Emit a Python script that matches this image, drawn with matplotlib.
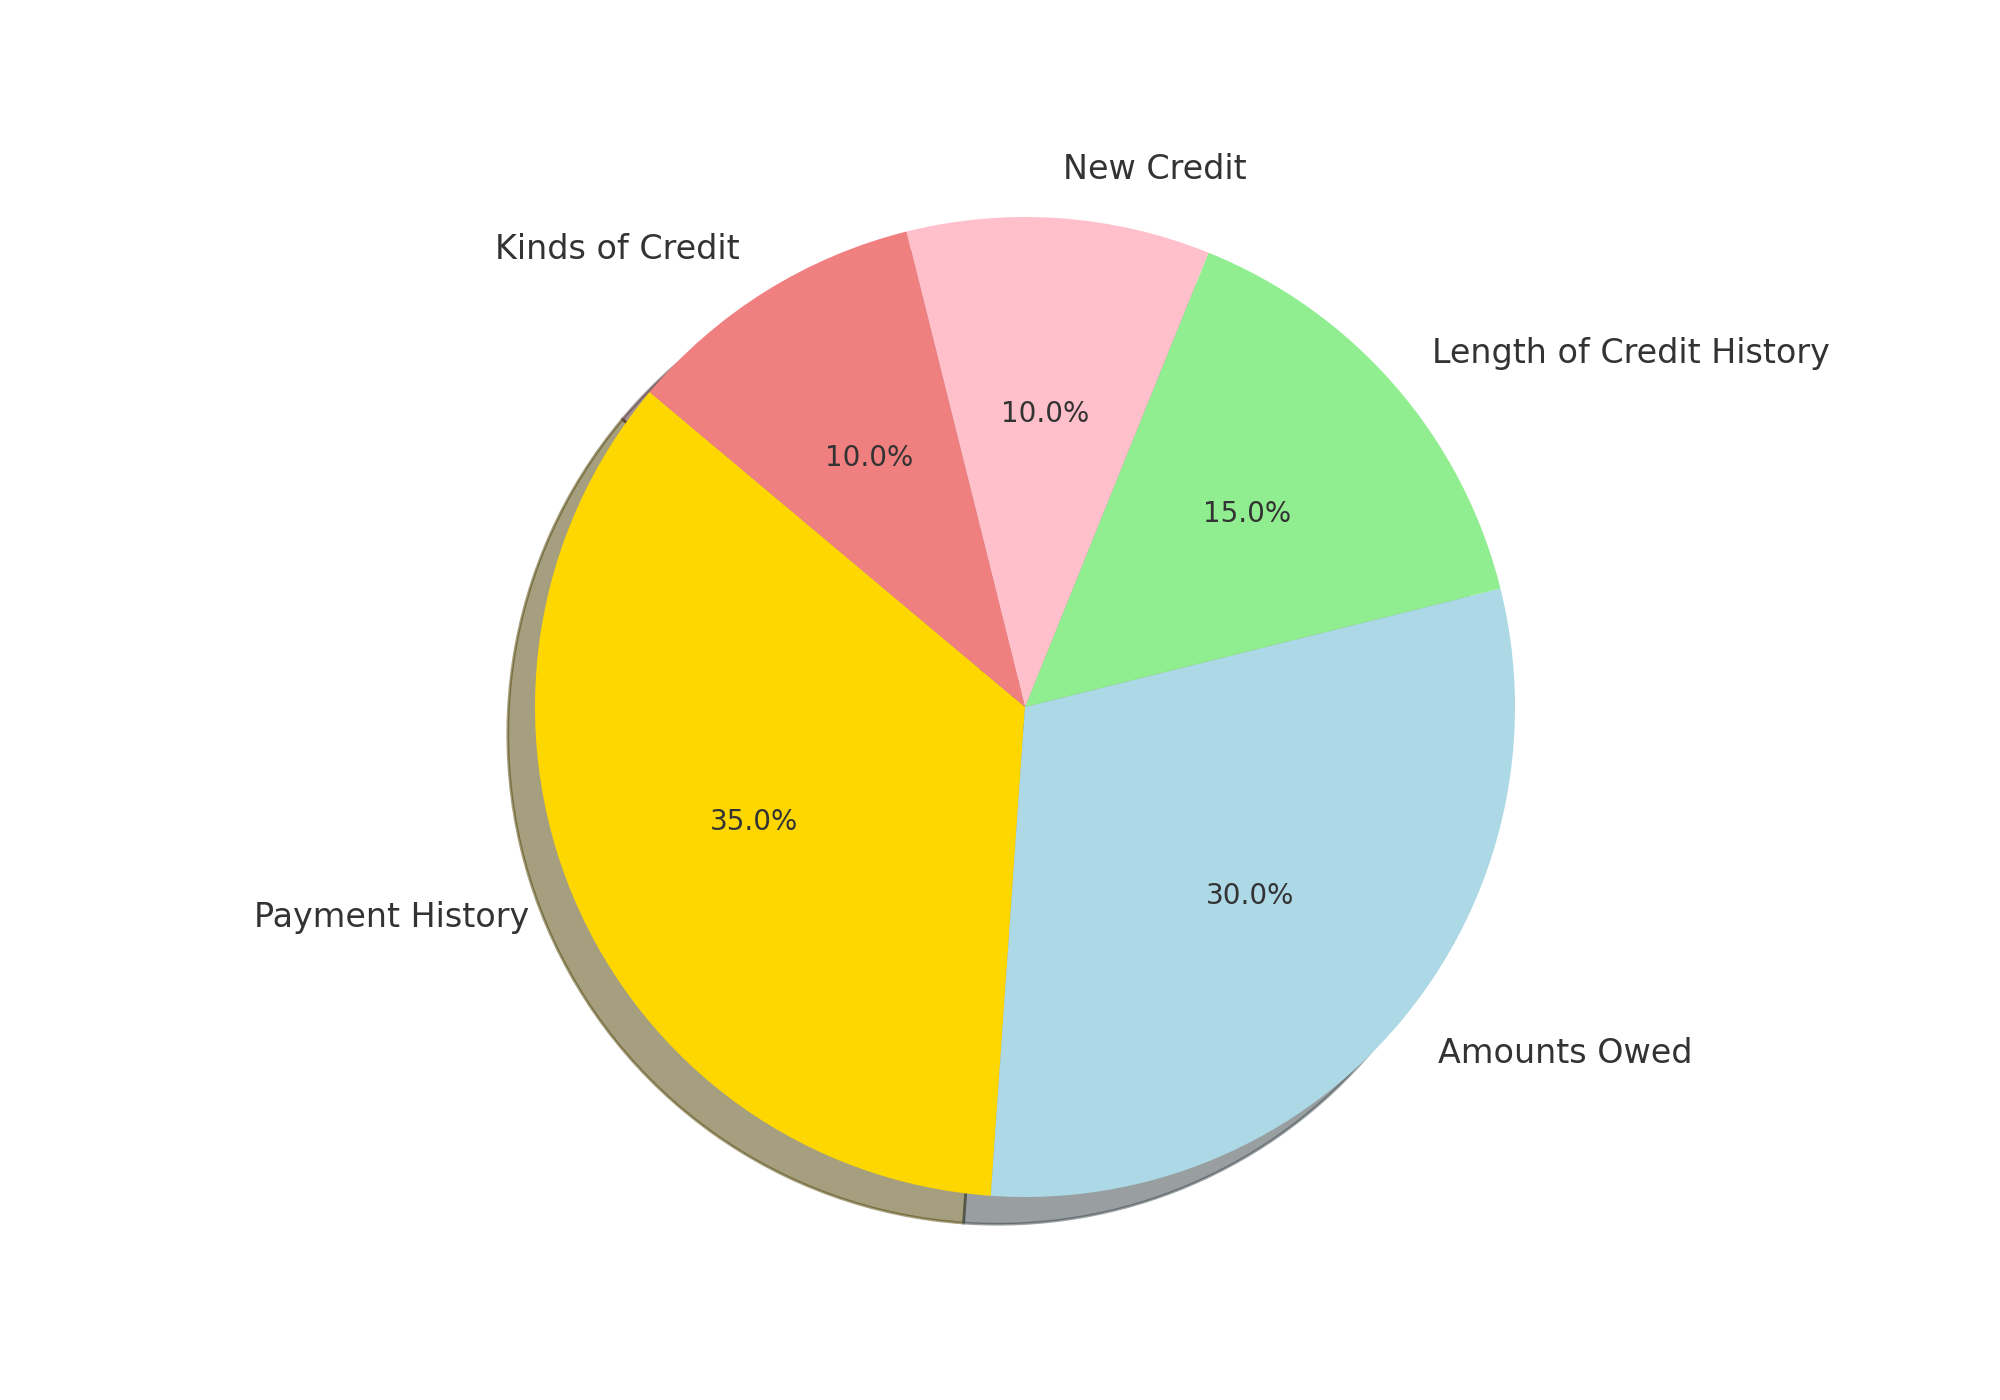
import matplotlib
matplotlib.use("Agg")
import matplotlib.pyplot as plt

labels = ["Payment History", "Amounts Owed", "Length of Credit History", "New Credit", "Kinds of Credit"]
sizes = [35, 30, 15, 10, 10]
colors = ["gold", "lightblue", "lightgreen", "pink", "lightcoral"]

plt.rcParams['text.color'] = '#333333'
fig, ax = plt.subplots(figsize=(10, 7), dpi=200)
wedges, texts, autotexts = ax.pie(sizes, labels=labels, colors=colors, autopct='%1.1f%%',
                                  shadow=True, startangle=140,
                                  textprops={'color': '#333333'})
for t in texts:
    t.set_fontsize(12)
for t in autotexts:
    t.set_fontsize(10)
ax.axis('equal')
fig.savefig("out.png")
